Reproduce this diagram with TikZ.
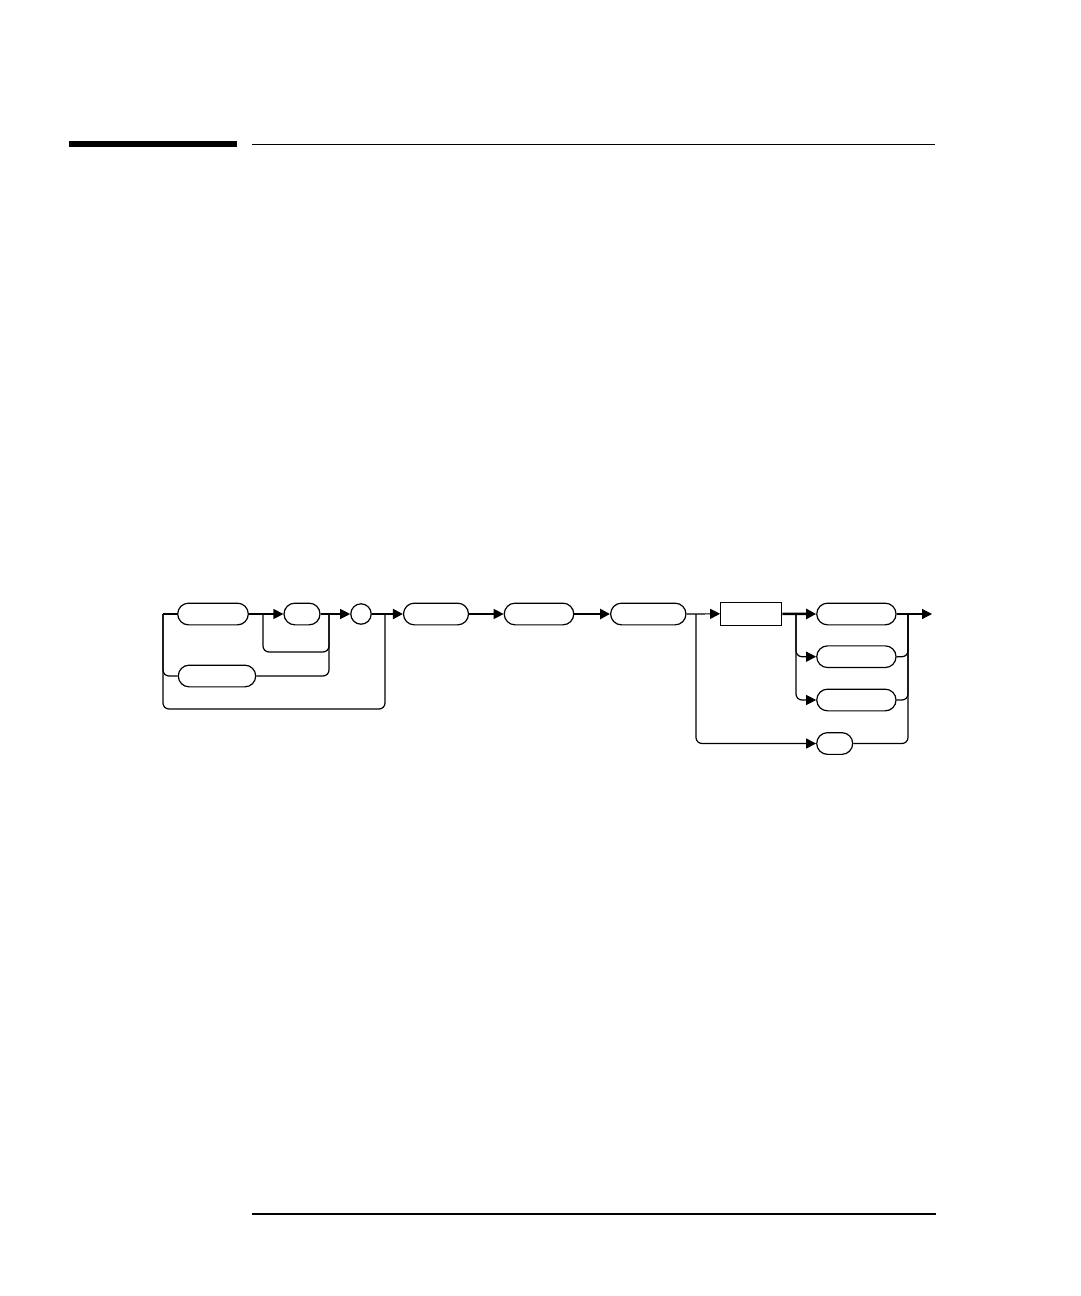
\documentclass[tikz,border=0pt]{standalone}
\usetikzlibrary{shapes.misc,arrows.meta}
\begin{document}
\begin{tikzpicture}[x=1pt,y=-1pt,
  term/.style={draw,rounded rectangle,minimum height=21.7pt,inner sep=0pt,line width=1.2pt},
  rbox/.style={draw,rectangle,minimum height=23pt,inner sep=0pt,line width=1.2pt},
  conn/.style={line width=1.2pt},
  thk/.style={line width=2.4pt},
  arr/.style={-{Triangle[length=10pt,width=10pt]}},
  loopl/.style={conn,rounded corners=6pt}]
\useasboundingbox (0,0) rectangle (1080,1296);
% header and footer rules
\fill (69,141) rectangle (237,146.5);
\draw[conn] (252,144.3) -- (935,144.3);
\draw[conn] (252,1214) -- (936,1214);
% nodes
\node[term,minimum width=70.6pt] (A) at (213,614) {};
\node[term,minimum width=77.4pt] (B) at (217,676) {};
\node[term,minimum width=36pt] (C) at (302,614) {};
\node[draw,circle,minimum size=20.4pt,inner sep=0pt,line width=1.2pt] (O) at (361,614) {};
\node[term,minimum width=65pt] (D) at (436,614) {};
\node[term,minimum width=69.5pt] (E) at (539,614) {};
\node[term,minimum width=75.3pt] (F) at (648.3,614) {};
\node[rbox,minimum width=61pt] (R) at (751.2,613.8) {};
\node[term,minimum width=79.3pt] (G) at (856.4,614) {};
\node[term,minimum width=79.3pt] (H1) at (856.4,656.7) {};
\node[term,minimum width=79.3pt] (H2) at (856.4,700) {};
\node[term,minimum width=36pt] (I) at (834.7,743.5) {};
% junctions
\coordinate (s) at (163,614);
\coordinate (j1) at (263,614);
\coordinate (j1b) at (329,614);
\coordinate (j1c) at (329,652);
\coordinate (j2) at (385,614);
\coordinate (j2b) at (385,709);
\coordinate (j4) at (696,614);
\coordinate (j3) at (796,614);
\coordinate (j5) at (908,614);
\coordinate (fin) at (932,614);
% connectors
\draw[conn] (s) -- (A.west);
\draw[loopl] (s) |- (j2b) -- (j2);
\draw[loopl] (s) |- (B.west);
\draw[conn,arr] (A.east) -- (C.west);
\draw[loopl] (j1) |- (j1c) -- (j1b);
\draw[loopl] (B.east) -| (j1b);
\draw[conn,arr] (C.east) -- (O.west);
\draw[thk,arr] (O.east) -- (D.west);
\draw[conn,arr] (D.east) -- (E.west);
\draw[thk,arr] (E.east) -- (F.west);
\draw[conn,arr] (F.east) -- (R.west);
\draw[loopl,arr] (j4) |- (I.west);
\draw[thk,arr] (R.east) -- (G.west);
\draw[loopl,arr] (j3) |- (H1.west);
\draw[loopl,arr] (j3) |- (H2.west);
\draw[loopl] (H1.east) -| (j5);
\draw[loopl] (H2.east) -| (j5);
\draw[loopl] (I.east) -| (j5);
\draw[conn,arr] (G.east) -- (fin);
\end{tikzpicture}
\end{document}
